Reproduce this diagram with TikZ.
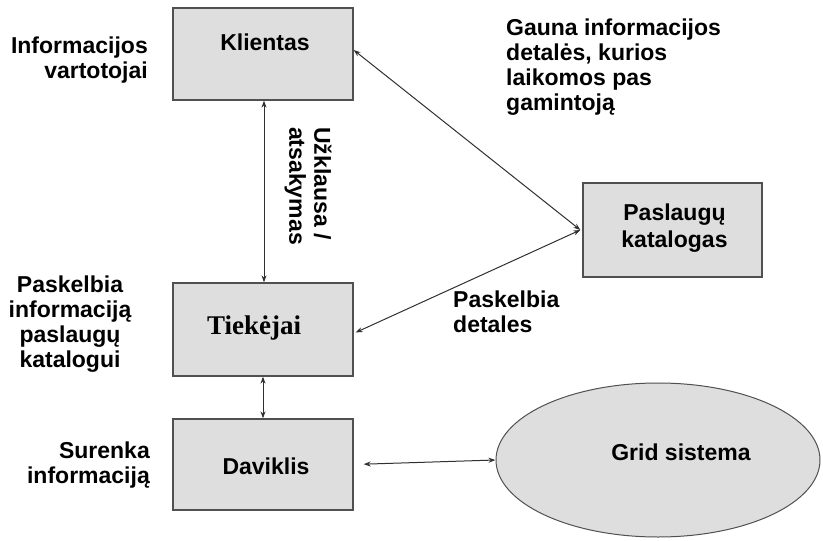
\documentclass[tikz,border=0pt]{standalone}
\usepackage{fontspec}
\setmainfont{Liberation Sans}
\newfontfamily\serifbold{Liberation Serif}
\usetikzlibrary{arrows.meta,shapes.geometric}
\definecolor{boxfill}{HTML}{DEDEDE}
\definecolor{boxline}{HTML}{505050}
\definecolor{linkcol}{HTML}{303030}
\begin{document}
\begin{tikzpicture}[x=1pt,y=-1pt,
  box/.style={draw=boxline,fill=boxfill,line width=1.3pt,inner sep=0pt},
  boxtxt/.style={font=\fontsize{23}{27}\selectfont\bfseries,align=center,inner sep=0pt},
  note/.style={font=\fontsize{23}{25}\selectfont\bfseries,inner sep=0pt},
  link/.style={draw=linkcol,line width=1pt,{Stealth[length=7pt,width=5pt]}-{Stealth[length=7pt,width=5pt]}}
]
\useasboundingbox (0,0) rectangle (823,541);

% main boxes
\node[box,minimum width=180pt,minimum height=92pt,
      label={[boxtxt,yshift=12pt,xshift=2pt]center:Klientas}] (kl) at (263,54) {};
\node[box,minimum width=180pt,minimum height=93pt,
      label={[boxtxt,font=\fontsize{27}{30}\selectfont\serifbold\bfseries,yshift=1pt,xshift=-9pt]center:Tiekėjai}] (tk) at (263,329.5) {};
\node[box,minimum width=180pt,minimum height=91pt,
      label={[boxtxt,yshift=-2pt,xshift=3pt]center:Daviklis}] (dv) at (263,464.5) {};
\node[box,minimum width=179pt,minimum height=94pt,
      label={[boxtxt,yshift=2pt,xshift=2pt]center:Paslaugų\\katalogas}] (pk) at (672.5,230) {};
\node[ellipse,draw=boxline,fill=boxfill,line width=1pt,minimum width=324pt,minimum height=154pt,inner sep=0pt,
      label={[boxtxt,xshift=23pt,yshift=8pt]center:Grid sistema}] (gr) at (658,460) {};

% side notes
\node[note,align=right,anchor=east] (n1) at (148,60) {Informacijos\\vartotojai};
\node[note,align=center] (n2) at (70,324) {Paskelbia\\informaciją\\paslaugų\\katalogui};
\node[note,align=right,anchor=east] (n3) at (150,465) {Surenka\\informaciją};
\node[note,align=left,anchor=west] (n4) at (506,67) {Gauna informacijos\\detalės, kurios\\laikomos pas\\gamintoją};
\node[note,align=left,anchor=west] (n5) at (453,312) {Paskelbia\\detales};
\node[note,align=left,rotate=-90] (n6) at (308,186) {Užklausa /\\atsakymas};

% connectors
\draw[link] (kl.south -| 264,0) -- (tk.north -| 264,0);
\draw[link] ([yshift=4pt]kl.east) -- ([xshift=-2pt]pk.west);
\draw[link] ([xshift=-2pt]pk.west) -- ([xshift=2pt,yshift=-3pt]tk.east);
\draw[link] (tk.south -| 263,0) -- (dv.north -| 263,0);
\draw[link,shorten <=10pt] (dv.east) -- (gr.west);
\end{tikzpicture}
\end{document}
